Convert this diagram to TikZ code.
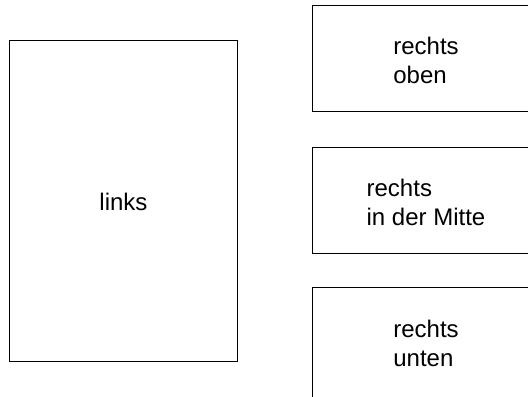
\documentclass[tikz,border=0pt]{standalone}
\usepackage{fontspec}
\setmainfont{Liberation Sans}
\begin{document}
\begin{tikzpicture}[x=1bp,y=-1bp,
  panel/.style={draw=black, line width=1bp, inner sep=0pt},
  tallpanel/.style={panel, minimum width=227bp, minimum height=321bp},
  widepanel/.style={panel, minimum width=227bp, minimum height=106bp},
  caption/.style={inner sep=0pt, align=left,
    font=\fontsize{24bp}{29bp}\selectfont}]
  \useasboundingbox (0,0) rectangle (528,396);
  \clip (0,0) rectangle (528,396);
  % frames
  \node[tallpanel] (links) at (123.5,201) {};
  \node[widepanel] (oben) at (426,58) {};
  \node[widepanel] (mitte) at (426,200) {};
  \node[panel, minimum width=227bp, minimum height=116bp] (unten) at (426,345) {};
  % texts
  \node[caption] (linkstext) at ([yshift=-1bp]links.center) {links};
  \node[caption] (obentext) at ([yshift=-2bp]oben.center) {rechts\\oben};
  \node[caption] (mittetext) at ([yshift=-2bp]mitte.center) {rechts\\in der Mitte};
  \node[caption] (untentext) at ([yshift=2bp]unten.center) {rechts\\unten};
\end{tikzpicture}
\end{document}
